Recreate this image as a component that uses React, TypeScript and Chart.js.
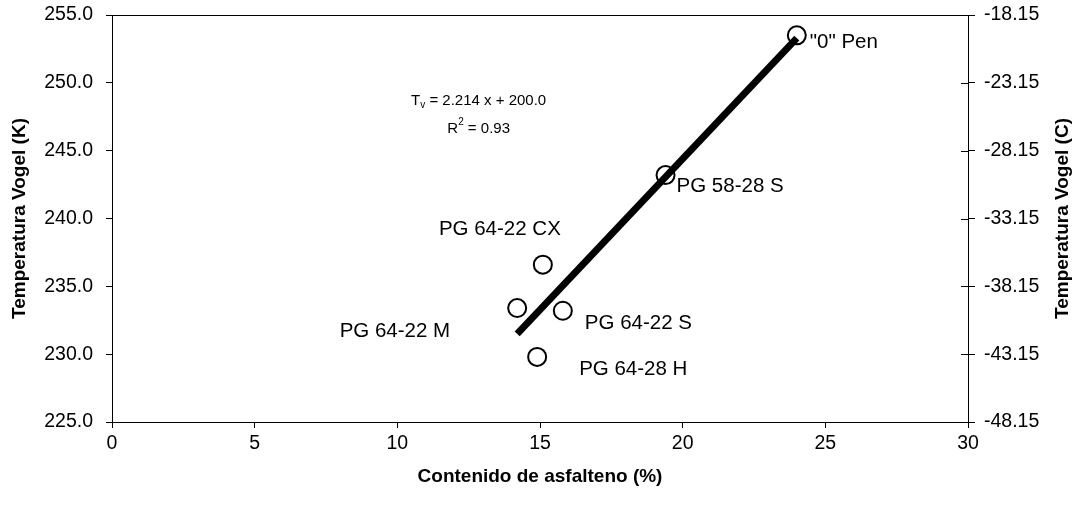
import React, { useEffect, useRef } from "react";
import { Chart, registerables } from "chart.js";

Chart.register(...registerables);

const pointLabels = ['"0" Pen', "PG 58-28 S", "PG 64-22 CX", "PG 64-22 M", "PG 64-22 S", "PG 64-28 H"];
const asphalteneX = [24.0, 19.4, 15.1, 14.2, 15.8, 14.9];
const vogelK = [253.5, 243.2, 236.6, 233.4, 233.2, 229.8];
const trendX = [14.2, 24.0];
const trendY = [231.5, 253.3];
const leftTicks = [225, 230, 235, 240, 245, 250, 255];
const rightTicks = [-48.15, -43.15, -38.15, -33.15, -28.15, -23.15, -18.15];
const xTicks = [0, 5, 10, 15, 20, 25, 30];

// label placement relative to point: [dx, dy, align]
const labelOffsets: [number, number, CanvasTextAlign][] = [
  [13, 7, "left"],
  [11, 11, "left"],
  [-43, -35, "center"],
  [-67, 23, "right"],
  [22, 13, "left"],
  [42, 12, "left"],
];

const FONT = "'Liberation Sans', Arial, sans-serif";

const overlay = {
  id: "overlay",
  afterDraw(chart: any) {
    const { ctx, chartArea, scales } = chart;
    const xs = scales.x;
    const ys = scales.y;
    const y2 = scales.y2;
    ctx.save();
    // frame
    ctx.strokeStyle = "#000";
    ctx.lineWidth = 1;
    ctx.strokeRect(chartArea.left + 0.5, chartArea.top + 0.5, chartArea.right - chartArea.left, chartArea.bottom - chartArea.top);
    // inner half of right-axis ticks (they cross the axis)
    ctx.beginPath();
    rightTicks.forEach((v) => {
      const py = Math.round(y2.getPixelForValue(v)) + 0.5;
      ctx.moveTo(chartArea.right - 7, py);
      ctx.lineTo(chartArea.right, py);
    });
    ctx.stroke();
    // point labels
    ctx.fillStyle = "#000";
    ctx.font = `20.5px ${FONT}`;
    ctx.textBaseline = "middle";
    pointLabels.forEach((t, i) => {
      const px = xs.getPixelForValue(asphalteneX[i]);
      const py = ys.getPixelForValue(vogelK[i]);
      const [dx, dy, al] = labelOffsets[i];
      ctx.textAlign = al;
      ctx.fillText(t, px + dx, py + dy);
    });
    // equation
    const ex = xs.getPixelForValue(12.85);
    const ey = ys.getPixelForValue(248.7);
    ctx.textAlign = "left";
    ctx.font = `15px ${FONT}`;
    const l1a = "T";
    const l1b = "v";
    const l1c = " = 2.214 x + 200.0";
    const wA = ctx.measureText(l1a).width;
    ctx.font = `10px ${FONT}`;
    const wB = ctx.measureText(l1b).width;
    ctx.font = `15px ${FONT}`;
    const wC = ctx.measureText(l1c).width;
    let sx = ex - (wA + wB + wC) / 2;
    ctx.fillText(l1a, sx, ey);
    ctx.font = `10px ${FONT}`;
    ctx.fillText(l1b, sx + wA, ey + 5);
    ctx.font = `15px ${FONT}`;
    ctx.fillText(l1c, sx + wA + wB, ey);
    const l2a = "R";
    const l2b = "2";
    const l2c = " = 0.93";
    const w2a = ctx.measureText(l2a).width;
    ctx.font = `10px ${FONT}`;
    const w2b = ctx.measureText(l2b).width;
    ctx.font = `15px ${FONT}`;
    const w2c = ctx.measureText(l2c).width;
    const ey2 = ey + 28;
    sx = ex - (w2a + w2b + w2c) / 2;
    ctx.fillText(l2a, sx, ey2);
    ctx.font = `10px ${FONT}`;
    ctx.fillText(l2b, sx + w2a, ey2 - 6);
    ctx.font = `15px ${FONT}`;
    ctx.fillText(l2c, sx + w2a + w2b, ey2);
    // right axis title (reads bottom to top)
    ctx.font = `bold 19px ${FONT}`;
    ctx.textAlign = "center";
    ctx.translate(1063, (chartArea.top + chartArea.bottom) / 2);
    ctx.rotate(-Math.PI / 2);
    ctx.fillText("Temperatura Vogel (C)", 0, 0);
    ctx.restore();
  },
};

const fixY = (w: number) => (s: any) => {
  s.width = w;
  s.paddingTop = 0;
  s.paddingBottom = 0;
};

export default function App() {
  const ref = useRef<HTMLCanvasElement>(null);
  useEffect(() => {
    document.body.style.margin = "0";
    const canvas = ref.current!;
    const chart = new Chart(canvas, {
      type: "scatter",
      data: {
        datasets: [
          {
            label: "Trend",
            type: "line",
            data: trendX.map((x, i) => ({ x, y: trendY[i] })),
            borderColor: "#000",
            borderWidth: 7,
            pointRadius: 0,
            fill: false,
            order: 2,
          } as any,
          {
            label: "Asfaltos",
            data: asphalteneX.map((x, i) => ({ x, y: vogelK[i] })),
            pointStyle: "circle",
            pointRadius: 9,
            pointBorderWidth: 2,
            pointBorderColor: "#000",
            pointBackgroundColor: "rgba(0,0,0,0)",
            order: 1,
          },
        ],
      },
      options: {
        animation: false,
        responsive: false,
        devicePixelRatio: 1,
        layout: { padding: { top: 15, left: 0, right: 0, bottom: 0 } },
        plugins: { legend: { display: false }, tooltip: { enabled: false } },
        scales: {
          x: {
            type: "linear",
            min: 0,
            max: 30,
            afterBuildTicks: (s: any) => { s.ticks = xTicks.map((v) => ({ value: v })); },
            afterFit: (s: any) => { s.height = 86; s.paddingLeft = 0; s.paddingRight = 0; },
            grid: { display: true, drawOnChartArea: false, tickLength: 6, color: "#000" },
            border: { display: true, color: "#000" },
            ticks: { color: "#000", font: { family: FONT, size: 19.5 }, padding: 4, maxRotation: 0 },
            title: {
              display: true,
              text: "Contenido de asfalteno (%)",
              color: "#000",
              font: { family: FONT, size: 19, weight: "bold" },
              padding: { top: 0, bottom: 20 },
            },
          },
          y: {
            type: "linear",
            position: "left",
            min: 225,
            max: 255,
            afterBuildTicks: (s: any) => { s.ticks = leftTicks.map((v) => ({ value: v })); },
            afterFit: fixY(112),
            grid: { display: true, drawOnChartArea: false, tickLength: 6, color: "#000" },
            border: { display: true, color: "#000" },
            ticks: {
              color: "#000",
              font: { family: FONT, size: 19.5 },
              padding: 13,
              callback: (v: any) => Number(v).toFixed(1),
            },
            title: {
              display: true,
              text: "Temperatura Vogel (K)",
              color: "#000",
              font: { family: FONT, size: 19, weight: "bold" },
              padding: { top: 8, bottom: 0 },
            },
          },
          y2: {
            type: "linear",
            position: "right",
            min: -48.15,
            max: -18.15,
            afterBuildTicks: (s: any) => { s.ticks = rightTicks.map((v) => ({ value: v })); },
            afterFit: fixY(110),
            grid: { display: true, drawOnChartArea: false, tickLength: 7, color: "#000" },
            border: { display: true, color: "#000" },
            ticks: {
              color: "#000",
              font: { family: FONT, size: 19.5 },
              padding: 9,
              callback: (v: any) => Number(v).toFixed(2),
            },
          },
        },
      },
      plugins: [overlay],
    });
    return () => chart.destroy();
  }, []);
  return (
    <div style={{ width: 1078, height: 508, background: "#fff" }}>
      <canvas ref={ref} width={1078} height={508} style={{ display: "block" }} />
    </div>
  );
}
